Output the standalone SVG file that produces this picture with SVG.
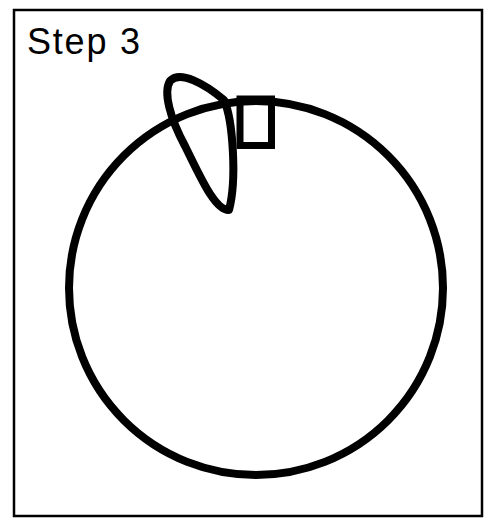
<svg xmlns="http://www.w3.org/2000/svg" width="500" height="531" viewBox="0 0 500 531">
<style>
.thick{fill:none;stroke:#000;stroke-width:8;stroke-linejoin:round}
</style>
<rect width="500" height="531" fill="#fff"/>
<rect id="frame" x="14" y="10" width="468" height="506" fill="none" stroke="#000" stroke-width="2.5"/>
<text x="27" y="54" font-family="'Liberation Sans','Noto Sans',sans-serif" font-size="36" textLength="113" lengthAdjust="spacing" fill="#000">Step 3</text>
<g id="circle"><circle class="thick" cx="256" cy="288" r="187"/></g>
<g id="square"><rect x="240" y="99" width="31.5" height="46.5" fill="none" stroke="#000" stroke-width="7"/></g>
<g id="loop"><path class="thick" d="M229,210 C237,180 233,120 224,100 C205,84 180,70 170,81 C163,92 170,118 185,146 C200,176 215,211 229,210 Z"/></g>
</svg>
